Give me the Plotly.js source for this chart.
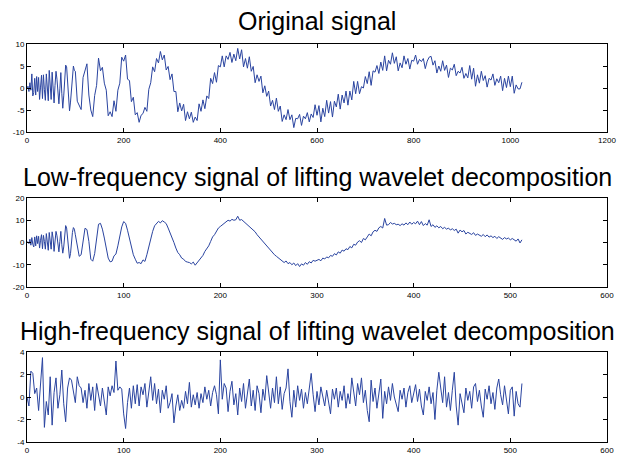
<!DOCTYPE html>
<html>
<head>
<meta charset="utf-8">
<script src="https://cdn.plot.ly/plotly-3.0.1.min.js"></script>
<style>
html,body{margin:0;padding:0;background:#fff;}
#chart{width:619px;height:455px;}
</style>
</head>
<body>
<div id="chart"></div>
<script>
// Original signal: samples 0..98 (every 2nd), then 100..1024 (every 4th)
const origHeadY = [0.0,0.4,-0.8,1.2,-0.5,3.2,-1.8,-1.0,2.2,-1.6,
2.6,-0.8,2.4,-2.6,0.2,2.9,-2.4,3.0,-0.4,-2.8,
3.2,0.2,-2.9,4.0,0.5,-2.6,3.6,1.0,-3.4,0.6,
3.8,2.0,-1.6,-3.6,-0.2,3.5,-1.2,-4.6,-1.8,2.6,
5.2,4.8,0.8,-3.6,-5.2,-3.2,0.0,3.4,5.0,4.0];
const origTailY = [3.8,-3.0,-3.8,-4.9,2.4,4.0,5.5,-1.6,-5.0,-6.5,
-1.7,0.6,6.8,3.9,4.7,1.1,-0.5,-6.3,-5.4,-6.5,
-2.9,-5.3,-0.5,1.1,7.0,6.1,7.5,2.0,1.7,-3.1,
-2.1,-6.1,-5.6,-7.8,-6.2,-5.8,-4.4,-5.3,-0.3,1.2,
4.8,3.7,6.7,5.7,8.3,6.4,7.5,4.1,4.9,1.9,
3.2,-0.8,-0.8,-5.4,-3.4,-5.2,-3.7,-7.4,-5.4,-7.0,
-5.5,-7.8,-6.6,-7.4,-3.6,-5.3,-2.7,-4.7,-1.8,-2.4,
2.2,1.0,3.5,1.3,5.1,4.8,7.3,4.8,7.3,6.5,
8.1,5.8,7.7,6.2,9.0,6.6,8.7,4.8,6.7,4.5,
7.1,3.8,4.9,1.2,3.0,1.5,2.7,-1.1,0.5,-1.9,
-0.7,-4.1,-2.8,-4.9,-2.3,-5.3,-4.1,-7.6,-6.1,-7.2,
-4.9,-7.2,-6.1,-9.0,-6.9,-7.0,-6.0,-8.5,-6.4,-7.0,
-5.6,-7.7,-5.9,-6.7,-3.8,-6.2,-4.0,-7.7,-4.6,-6.5,
-2.8,-5.7,-3.1,-6.6,-3.0,-4.3,-1.4,-4.8,-1.6,-3.4,
-0.7,-3.9,-0.7,-2.7,1.5,-1.3,1.5,-1.3,0.3,0.0,
2.6,1.0,3.7,0.6,3.9,3.6,5.1,3.3,5.9,4.0,
7.3,3.9,6.3,5.4,8.0,5.6,7.1,3.9,5.7,4.6,
7.3,5.4,6.7,4.3,6.3,6.1,7.5,5.4,6.5,6.0,
6.7,4.4,6.1,7.0,7.2,5.2,6.2,3.4,5.0,3.8,
6.2,4.0,5.2,2.4,4.5,4.1,5.4,2.8,3.8,3.4,
4.7,2.2,3.3,2.3,5.1,2.0,4.5,0.4,3.0,1.1,
3.8,1.7,2.8,0.2,2.2,1.8,3.2,0.6,2.1,1.2,
2.7,-0.6,2.2,0.1,2.7,0.3,2.7,-1.2,0.7,-0.2,
-0.2,1.3];

// Low-frequency: samples 0..49 (every one), then 50..512 (every 2nd)
const lowHeadY = [0,0.3,-0.5,1.5,-1.2,2.2,-0.8,-2.0,2.5,-1.5,
3.0,-0.5,2.8,-2.5,1.0,3.5,-2.8,3.2,0.5,-3.0,
4.0,0.8,-3.5,4.5,1.0,-3.0,4.8,2.0,-4.0,1.5,
5.0,3.0,-2.5,-4.2,0.5,5.0,-1.0,-4.8,-2.0,4.0,
7.6,6.5,1.5,-4.5,-7.1,-5.0,0.5,4.5,6.7,6.0];
const lowTailY = [3.5,-2.0,-6.2,-5.5,0.5,6.4,5.8,0.5,-7.5,-8.4,
-5.0,2.0,8.2,8.6,6.0,2.0,-3.0,-7.0,-8.7,-8.4,
-6.0,-5.2,-1.5,3.0,7.0,9.4,8.6,5.5,2.0,-2.5,
-5.5,-7.5,-9.3,-9.0,-9.5,-7.8,-8.5,-5.5,-1.5,2.5,
5.0,7.5,8.6,9.5,8.8,9.8,9.2,8.5,6.5,4.5,
2.0,0.0,-2.5,-4.5,-5.5,-7.0,-7.5,-8.5,-8.8,-9.0,
-9.6,-8.8,-10.2,-9.0,-8.0,-6.8,-5.8,-4.0,-3.0,-1.5,
0.5,2.5,3.5,5.0,6.5,7.2,8.0,8.8,9.2,10.0,
9.6,10.4,10.0,10.2,11.8,10.0,10.3,9.5,9.0,8.2,
7.5,6.5,5.5,4.8,3.5,2.5,1.5,0.5,-0.5,-1.8,
-2.8,-3.5,-4.8,-5.5,-6.2,-6.8,-7.8,-8.0,-9.0,-8.3,
-9.5,-9.0,-10.0,-9.2,-10.4,-9.5,-10.8,-9.6,-10.2,-9.0,
-9.8,-8.6,-9.2,-8.0,-8.4,-8.0,-7.6,-8.2,-7.0,-7.4,
-6.5,-6.9,-5.8,-6.2,-5.0,-5.6,-4.2,-4.8,-3.4,-3.9,
-2.8,-3.2,-1.8,-2.4,-0.8,-1.2,0.2,0.8,0.0,1.8,
1.2,2.5,3.8,3.0,4.8,5.5,5.0,6.6,7.2,6.5,
10.8,7.8,8.0,9.0,8.3,8.6,8.0,8.2,7.6,8.4,
7.8,8.8,8.0,9.2,8.2,9.0,8.4,9.6,8.0,9.4,
7.6,8.5,7.8,10.2,7.2,8.0,6.8,7.5,6.6,7.2,
6.2,6.8,6.0,6.5,5.6,6.2,5.4,6.0,4.2,5.6,
4.8,5.4,3.8,4.6,4.2,3.6,4.4,3.2,3.8,3.4,
2.8,3.6,2.6,3.4,2.4,3.0,2.2,2.8,1.8,2.6,
2.0,1.4,2.2,1.6,2.0,1.2,1.8,1.0,0.6,1.6,
-0.2,1.2];

// High-frequency: samples 0..512 (every 2nd)
const highY = [0.0,-0.8,2.3,2.1,0.3,0.8,-1.2,1.3,3.5,-2.7,
-0.4,-1.6,1.8,-2.5,0.4,1.7,-1.0,0.2,2.4,-0.6,
-2.2,0.8,1.7,1.5,0.3,-0.5,1.8,1.0,0.8,-0.5,
0.6,-1.0,1.2,-0.3,0.9,-1.2,1.2,0.2,-0.8,0.8,
-0.4,-1.6,0.9,0.1,1.0,0.4,3.2,0.6,0.9,0.7,
-1.5,-2.8,-0.5,0.8,-1.0,1.0,-0.6,1.1,-0.8,0.9,
0.2,1.2,-0.9,0.5,1.8,-0.3,1.2,-0.6,0.7,-1.4,
0.6,-0.2,1.0,-1.0,-0.5,0.3,-2.3,-0.8,0.2,-1.2,
-0.3,-1.0,0.5,-0.6,1.3,-0.9,0.2,-0.7,0.4,-1.0,
0.3,-0.5,0.9,-0.2,0.6,-0.8,0.4,1.0,0.2,-1.5,
3.3,-0.2,1.2,0.8,-1.3,0.5,1.4,-0.7,0.3,-1.6,
0.8,-0.4,1.2,-1.0,0.2,1.6,-0.8,0.6,-1.2,1.0,
0.3,-1.4,0.7,-0.3,1.9,0.4,-1.0,0.8,-0.5,1.8,
-0.6,0.9,-1.1,0.3,0.8,2.5,-0.4,-1.8,0.6,-0.9,
1.0,-0.3,0.7,-1.0,0.4,-0.6,0.8,2.1,0.2,-1.3,
0.5,-0.7,0.9,0.1,-0.8,0.6,-0.4,-1.5,0.7,-0.2,
0.8,-0.9,0.5,-0.3,1.0,-1.0,0.3,-0.6,1.7,0.4,
-0.8,1.2,0.2,1.7,-0.5,0.6,-1.2,-2.2,1.5,-0.4,
0.8,-1.0,0.3,1.6,-1.9,0.5,-0.6,0.9,-0.3,1.2,
0.0,-0.7,-1.3,0.6,-0.2,0.8,-0.9,0.4,1.0,-0.5,
0.3,1.1,-0.4,0.7,-0.8,-1.6,0.5,-0.3,0.9,-0.6,
0.4,-2.0,0.6,2.2,0.8,-0.5,1.8,-0.9,0.4,-1.2,
0.6,2.2,-0.8,-2.5,0.3,-0.6,-1.4,0.8,-0.3,0.5,
-1.0,0.9,1.2,-0.4,0.6,-0.8,-1.8,0.7,-0.2,1.0,
-0.6,0.4,-1.1,0.8,1.6,0.2,-0.7,1.0,-0.4,-1.5,
0.6,0.9,-1.7,0.5,-0.6,-0.9,1.2];

const titles = ['Original signal',
  'Low-frequency signal of lifting wavelet decomposition',
  'High-frequency signal of lifting wavelet decomposition'];
const xTicks1 = [0,200,400,600,800,1000,1200];
const xTicks2 = [0,100,200,300,400,500,600];
const yTicks1 = [-10,-5,0,5,10];
const yTicks2 = [-20,-10,0,10,20];
const yTicks3 = [-4,-2,0,2,4];

const origX = origHeadY.map((_, i) => 2 * i).concat(origTailY.map((_, i) => 100 + 4 * i));
const origY = origHeadY.concat(origTailY);
const lowX = lowHeadY.map((_, i) => i).concat(lowTailY.map((_, i) => 50 + 2 * i));
const lowY = lowHeadY.concat(lowTailY);
const highX = highY.map((_, i) => 2 * i);

const lineColor = 'rgb(42,68,160)';
const traces = [
  {x: origX, y: origY, xaxis: 'x', yaxis: 'y', type: 'scatter', mode: 'lines', line: {color: lineColor, width: 1}},
  {x: lowX, y: lowY, xaxis: 'x2', yaxis: 'y2', type: 'scatter', mode: 'lines', line: {color: lineColor, width: 1}},
  {x: highX, y: highY, xaxis: 'x3', yaxis: 'y3', type: 'scatter', mode: 'lines', line: {color: lineColor, width: 1}}
];

const tickFont = {family: 'Liberation Sans, Arial, sans-serif', size: 8, color: '#000'};
function ax(extra, vals) {
  return Object.assign({
    showline: true, linecolor: '#000', linewidth: 1, mirror: 'ticks',
    ticks: 'inside', ticklen: 4, tickcolor: '#000', tickwidth: 1,
    showgrid: false, zeroline: false, fixedrange: true,
    tickfont: tickFont, tickmode: 'array', tickvals: vals,
    ticktext: vals.map(v => String(v))
  }, extra);
}

const layout = {
  width: 619, height: 455,
  margin: {l: 27, r: 12, t: 44, b: 13},
  paper_bgcolor: '#fff', plot_bgcolor: '#fff',
  showlegend: false,
  xaxis: ax({domain: [0, 1], range: [0, 1200], anchor: 'y'}, xTicks1),
  yaxis: ax({domain: [0.7789, 1], range: [-10, 10], anchor: 'x'}, yTicks1),
  xaxis2: ax({domain: [0, 1], range: [0, 600], anchor: 'y2'}, xTicks2),
  yaxis2: ax({domain: [0.3894, 0.6131], range: [-20, 20], anchor: 'x2'}, yTicks2),
  xaxis3: ax({domain: [0, 1], range: [0, 600], anchor: 'y3'}, xTicks2),
  yaxis3: ax({domain: [0, 0.2261], range: [-4, 4], anchor: 'x3'}, yTicks3),
  annotations: [
    {text: titles[0], x: 0.5, y: 1.0578},
    {text: titles[1], x: 0.5, y: 0.6658},
    {text: titles[2], x: 0.5, y: 0.2789}
  ].map(a => Object.assign(a, {xref: 'paper', yref: 'paper', xanchor: 'center', yanchor: 'middle',
    showarrow: false, font: {family: 'Liberation Sans, Arial, sans-serif', size: 25, color: '#000'}}))
};

Plotly.newPlot('chart', traces, layout, {displayModeBar: false, staticPlot: true});
</script>
</body>
</html>
